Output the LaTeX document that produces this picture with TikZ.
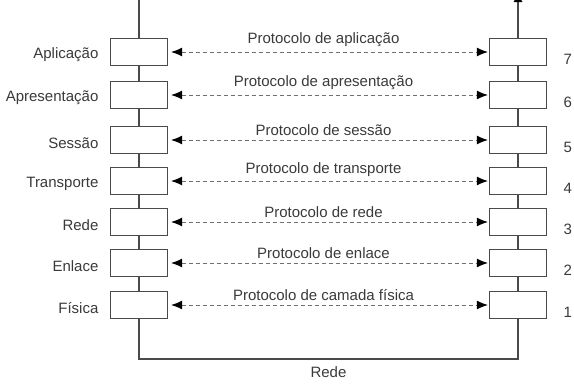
\documentclass[tikz,border=0pt]{standalone}
\usepackage{fontspec}
\setmainfont{Liberation Sans}
\usetikzlibrary{arrows.meta,calc,positioning}

\definecolor{linegray}{HTML}{4A4A4A}
\definecolor{dashgray}{HTML}{707070}
\definecolor{textgray}{HTML}{3A3A3A}

\begin{document}
\begin{tikzpicture}[
        x=1pt,
        y=-1pt,
        font=\fontsize{15}{17}\selectfont,
        text=textgray,
        layer box/.style={
            draw=linegray,line width=1.2pt,fill=white,
            minimum width=57pt,minimum height=27pt,inner sep=0pt
        },
        stack line/.style={draw=linegray,line width=1.2pt},
        peer arrow/.style={
            draw=dashgray,line width=1pt,dash pattern=on 4pt off 3pt,
            {Latex[length=11pt,width=9pt,black]}-{Latex[length=11pt,width=9pt,black]},
            shorten <=3pt,shorten >=1pt
        }
    ]
        \useasboundingbox (0,0) rectangle (574,384);

        % The two protocol stacks, layer 7 on top.
        \foreach \y/\n/\lay/\prot in {
            52/7/Aplicação/aplicação,
            95/6/Apresentação/apresentação,
            140/5/Sessão/sessão,
            181/4/Transporte/transporte,
            222/3/Rede/rede,
            263/2/Enlace/enlace,
            305/1/Física/camada física}{
            \node[layer box] (l\n) at (139,\y) {};
            \node[layer box] (r\n) at (518,\y) {};
            \node[left=8pt of l\n,yshift=-3pt] (name\n) {\lay};
            \node[right=13pt of r\n,yshift=-7pt] (num\n) {\n};
            \draw[peer arrow] (l\n.east) -- (r\n.west)
                node[midway,above=1pt,xshift=-5pt] (prot\n) {Protocolo de \prot};
        }

        % Links down each stack.
        \foreach \a/\b in {7/6,6/5,5/4,4/3,3/2,2/1}{
            \draw[stack line] (l\a.south) -- (l\b.north);
            \draw[stack line] (r\a.south) -- (r\b.north);
        }

        % Into and out of the stacks.
        \coordinate (ltop) at (139,0);
        \coordinate (rtop) at (518,-9);
        \draw[stack line] (ltop) -- (l7.north);
        \draw[stack line,-{Latex[length=11pt,width=9pt,black]}] (r7.north) -- (rtop);

        % The physical network underneath.
        \coordinate (netleft) at (139,359);
        \coordinate (netright) at (518,359);
        \draw[stack line] (l1.south) -- (netleft) -- (netright) -- (r1.south);
        \node[below=4pt] (net) at ($(netleft)!0.5!(netright)$) {Rede};
    \end{tikzpicture}
\end{document}
